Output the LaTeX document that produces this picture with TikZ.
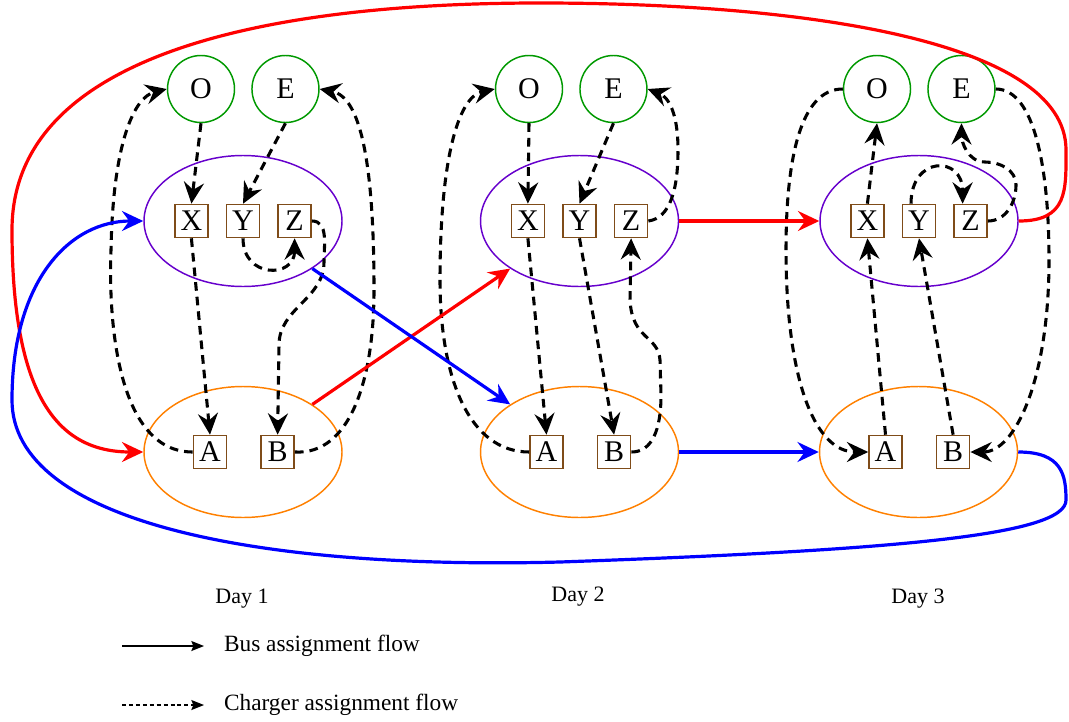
\documentclass[tikz,border=0pt]{standalone}
\usepackage{fontspec}
\setmainfont{Liberation Serif}
\usepackage{tikz}
\usetikzlibrary{positioning, arrows.meta, shapes.geometric}
\definecolor{busRed}{HTML}{FF0000}
\definecolor{busBlue}{HTML}{0000FF}
\definecolor{depotGreen}{HTML}{009900}
\definecolor{fleetPurple}{HTML}{6600CC}
\definecolor{plugOrange}{HTML}{FF8000}
\definecolor{itemBrown}{HTML}{7F4C19}

\begin{document}
\begin{tikzpicture}[
    x=0.75pt, y=-0.75pt,
    node distance=12.75pt,
    % --- estilos ---
    depot/.style={draw=depotGreen, circle, line width=1.1pt, minimum size=50.25pt,
                  inner sep=0pt, font=\fontsize{22.5}{26}\selectfont},
    group/.style={draw, ellipse, line width=1.1pt, minimum width=148.5pt,
                  minimum height=98.25pt, inner sep=0pt},
    busgroup/.style={group, draw=fleetPurple},
    plugroup/.style={group, draw=plugOrange},
    item/.style={draw=itemBrown, fill=white, line width=1.2pt, minimum size=24.75pt,
                 inner sep=0pt, font=\fontsize{22.5}{26}\selectfont},
    busflow/.style={-{Stealth[length=16pt, width=15pt, inset=5.5pt]}, line width=2.4pt},
    chargeflow/.style={-{Stealth[length=16pt, width=15pt, inset=5.5pt]}, line width=2.3pt,
                       dash pattern=on 6.5pt off 4.5pt},
    keyline/.style={-{Stealth[length=9.5pt, width=7.5pt, inset=1.5pt]}, line width=1pt},
    daylabel/.style={font=\fontsize{16.5}{20}\selectfont},
    keytext/.style={font=\fontsize{17.5}{21}\selectfont}
]
\useasboundingbox (0,0) rectangle (1069,721);

% ====== Day 1 ======
\node[busgroup] (Bus1) at (243,221) {};
\node[plugroup] (Chg1) at (243,452) {};
\node[depot] (O1) at (201,89) {O};
\node[depot, right=12pt of O1] (E1) {E};
\node[item] (Y1) at (Bus1) {Y};
\node[item, left=of Y1] (X1) {X};
\node[item, right=of Y1] (Z1) {Z};
\node[item] (A1) at ([xshift=-24.75pt]Chg1.center) {A};
\node[item, right=24.75pt of A1] (B1) {B};
\node[daylabel] (D1) at (242,599) {Day 1};

% ====== Day 2 ======
\node[busgroup] (Bus2) at (579.5,221) {};
\node[plugroup] (Chg2) at (579.5,452) {};
\node[depot] (O2) at (529,89) {O};
\node[depot, right=12pt of O2] (E2) {E};
\node[item] (Y2) at (Bus2) {Y};
\node[item, left=of Y2] (X2) {X};
\node[item, right=of Y2] (Z2) {Z};
\node[item] (A2) at ([xshift=-24.75pt]Chg2.center) {A};
\node[item, right=24.75pt of A2] (B2) {B};
\node[daylabel] (D2) at (578,597) {Day 2};

% ====== Day 3 ======
\node[busgroup] (Bus3) at (919,221) {};
\node[plugroup] (Chg3) at (918.5,452) {};
\node[depot] (O3) at (877,89) {O};
\node[depot, right=12pt of O3] (E3) {E};
\node[item] (Y3) at (Bus3) {Y};
\node[item, left=of Y3] (X3) {X};
\node[item, right=of Y3] (Z3) {Z};
\node[item] (A3) at ([xshift=-24.75pt]Chg3.center) {A};
\node[item, right=24.75pt of A3] (B3) {B};
\node[daylabel] (D3) at (918,599) {Day 3};

% Cargadores dia 1
\draw[chargeflow] (O1.south) -- (X1.north);
\draw[chargeflow] (E1.south) -- (Y1.north);
\draw[chargeflow] (X1.south) -- (A1.north);
\draw[chargeflow] (Y1.south) to[out=-90, in=-90, looseness=2] (Z1.south);
\draw[chargeflow] (Z1.east) to[out=0, in=90] (324,262) to[out=-90, in=90] (279,345) -- (B1.north);
\draw[chargeflow] (A1.west) .. controls (120,452) and (108,330) .. (111,250)
    .. controls (113,140) and (135,97) .. (O1.west);
\draw[chargeflow] (B1.east) .. controls (350,455) and (374,380) .. (374,290)
    .. controls (374,160) and (360,97) .. (E1.east);

% Cargadores dia 2
\draw[chargeflow] (O2.south) -- (X2.north);
\draw[chargeflow] (E2.south) -- (Y2.north);
\draw[chargeflow] (X2.south) -- (A2.north);
\draw[chargeflow] (Y2.south) -- (B2.north);
\draw[chargeflow] (B2.east) .. controls (652,452) and (661,430) .. (661,395) -- (660,360)
    .. controls (658,335) and (632,340) .. (630,300) -- (Z2.south);
\draw[chargeflow] (A2.west) .. controls (470,452) and (440,380) .. (440,280)
    .. controls (440,160) and (458,97) .. (O2.west);
\draw[chargeflow] (Z2.east) .. controls (670,218) and (678,190) .. (678,150)
    .. controls (678,112) and (668,97) .. (E2.east);

% Cargadores dia 3
\draw[chargeflow] (X3.north) -- (O3.south);
\draw[chargeflow] (A3.north) -- (X3.south);
\draw[chargeflow] (B3.north) -- (Y3.south);
\draw[chargeflow] ([xshift=-6pt]Y3.north) to[out=90, in=90, looseness=2.4] ([xshift=-6pt]Z3.north);
\draw[chargeflow] (Z3.east) to[out=0, in=-90] (1016,185) to[out=90, in=0] (985,162)
    to[out=180, in=-90] (E3.south);
\draw[chargeflow] (O3.west) .. controls (800,89) and (786,160) .. (786,250)
    .. controls (786,380) and (815,452) .. (A3.west);
\draw[chargeflow] (E3.east) .. controls (1035,89) and (1049,170) .. (1049,260)
    .. controls (1049,380) and (1015,452) .. (B3.east);

% Flujo de buses entre dias
\draw[busflow, busRed] (Chg1) -- (Bus2);
\draw[busflow, busBlue] (Bus1) -- (Chg2);
\draw[busflow, busRed] (Bus2) -- (Bus3);
\draw[busflow, busBlue] (Chg2) -- (Chg3);

% Retorno al dia 1
\draw[busflow, busRed] (Bus3.east) .. controls (1068,221) and (1066,190) .. (1066,150)
    .. controls (1066,40) and (800,3) .. (540,3)
    .. controls (250,3) and (12,60) .. (12,230)
    .. controls (12,400) and (60,452) .. (Chg1.west);
\draw[busflow, busBlue] (Chg3.east) .. controls (1062,452) and (1066,475) .. (1066,500)
    .. controls (1066,535) and (900,550) .. (560,562)
    .. controls (250,570) and (12,520) .. (12,400)
    .. controls (12,280) and (70,221) .. (Bus1.west);

% --- Leyenda ---
\coordinate (busTail) at (122,646);
\coordinate (busHead) at (204,646);
\coordinate (chgTail) at (122,705);
\coordinate (chgHead) at (204,705);
\draw[keyline] (busTail) -- (busHead);
\draw[keyline, dash pattern=on 3pt off 2.2pt] (chgTail) -- (chgHead);
\node[keytext, right=11.5pt of busHead] (busKey) {Bus assignment flow};
\node[keytext, right=11.5pt of chgHead] (chgKey) {Charger assignment flow};

\end{tikzpicture}
\end{document}
